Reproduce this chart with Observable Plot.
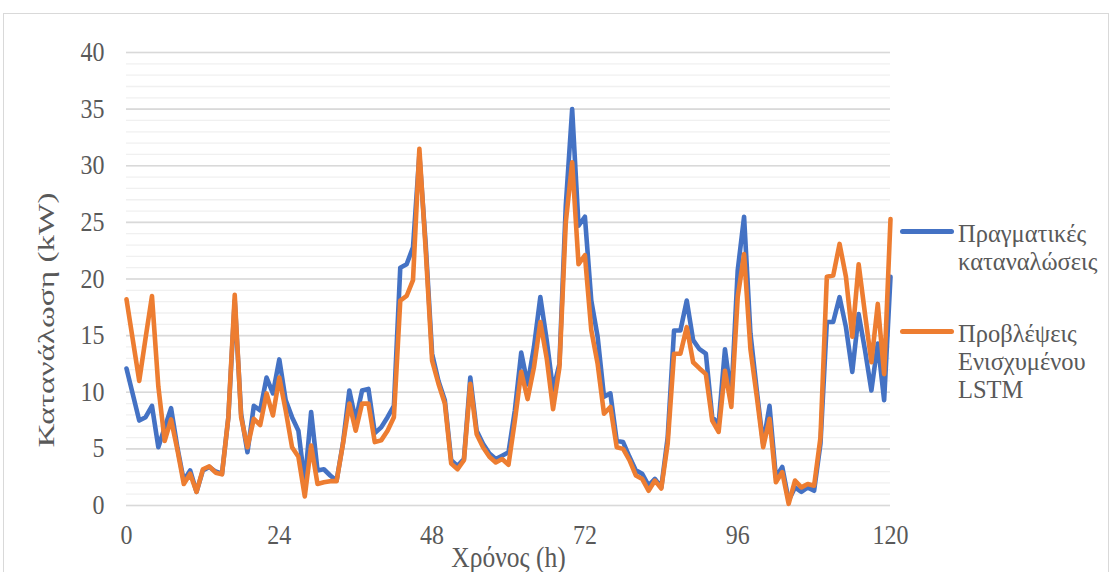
<!DOCTYPE html>
<html>
<head>
<meta charset="utf-8">
<script src="https://cdn.jsdelivr.net/npm/d3@7"></script>
<script src="https://cdn.jsdelivr.net/npm/@observablehq/plot@0.6"></script>
<style>
  html, body { margin: 0; padding: 0; background: #fff; overflow: hidden; }
  #chart { position: relative; width: 1113px; height: 572px; overflow: hidden; font-family: "Liberation Serif", "Times New Roman", serif; }
  #frame { position: absolute; left: 3px; top: 13px; width: 1106px; height: 640px; border: 1px solid #d9d9d9; box-sizing: border-box; }
  #legend { position: absolute; left: 900px; top: 220px; color: #595959; font-size: 24.5px; line-height: 28px; }
  .entry { position: relative; padding-left: 58px; margin-bottom: 44px; }
  .swatch { position: absolute; left: 0; top: 9px; width: 54px; height: 5px; border-radius: 2.5px; }
  svg { position: absolute; left: 0; top: 0; }
</style>
</head>
<body>
<div id="chart"><div id="frame"></div></div>
<script>
// Hourly electricity consumption (kW): measured vs. enhanced-LSTM forecast
const hours = d3.range(0, 121);

const actual = [
  12.1, 9.8, 7.5, 7.8, 8.8, 5.15, 6.9, 8.6, 5.1, 2.2,
  3.1, 1.2, 3.1, 3.4, 3.0, 2.8, 7.8, 18.1, 8.1, 4.7,
  8.8, 8.4, 11.3, 9.9, 12.9, 9.3, 7.8, 6.6, 2.0, 8.25,
  3.1, 3.2, 2.65, 2.2, 5.5, 10.15, 7.5, 10.15, 10.3, 6.4,
  6.9, 7.8, 8.8, 21.0, 21.3, 22.8, 31.0, 23.0, 13.4, 11.0,
  9.3, 4.0, 3.5, 4.1, 11.3, 6.6, 5.45, 4.6, 4.1, 4.4,
  4.7, 8.4, 13.5, 10.7, 14.0, 18.4, 14.6, 10.2, 12.5, 26.5,
  35.0, 24.7, 25.5, 18.1, 14.9, 9.6, 9.9, 5.7, 5.6, 4.3,
  3.1, 2.8, 1.75, 2.35, 1.6, 6.0, 15.45, 15.45, 18.1, 14.6,
  13.8, 13.4, 7.8, 7.2, 13.8, 9.6, 20.75, 25.5, 15.2, 10.15,
  5.45, 8.8, 2.5, 3.4, 0.45, 1.6, 1.2, 1.6, 1.3, 5.45,
  16.2, 16.2, 18.4, 15.75, 11.8, 16.9, 13.7, 10.15, 14.3, 9.3,
  20.2
];

const predicted = [
  18.2, 14.6, 11.0, 14.8, 18.5, 10.5, 5.7, 7.6, 4.9, 1.9,
  2.8, 1.2, 3.2, 3.45, 2.9, 2.75, 7.8, 18.6, 7.8, 5.15,
  7.65, 7.1, 9.9, 7.95, 11.3, 8.4, 5.15, 4.3, 0.8, 5.3,
  1.9, 2.05, 2.15, 2.15, 5.45, 9.0, 6.6, 9.0, 9.0, 5.6,
  5.75, 6.6, 7.8, 18.1, 18.5, 19.9, 31.5, 22.5, 12.8, 10.75,
  9.0, 3.7, 3.2, 4.0, 10.75, 6.3, 5.15, 4.3, 3.8, 4.1,
  3.6, 7.5, 11.8, 9.4, 12.2, 16.2, 13.0, 8.5, 12.2, 25.0,
  30.3, 21.3, 22.1, 15.5, 12.5, 8.1, 8.7, 5.15, 5.0, 4.0,
  2.65, 2.35, 1.3, 2.2, 1.5, 5.45, 13.4, 13.4, 15.75, 12.65,
  12.1, 11.6, 7.5, 6.5, 11.9, 8.7, 18.4, 22.2, 13.8, 9.6,
  5.15, 7.65, 2.05, 2.95, 0.15, 2.2, 1.6, 1.9, 1.75, 6.0,
  20.2, 20.3, 23.1, 20.2, 14.9, 21.3, 16.9, 12.65, 17.8, 11.6,
  25.3
];

const seriesNames = ["Πραγματικές καταναλώσεις", "Προβλέψεις Ενισχυμένου LSTM"];
const seriesLegend = [["Πραγματικές", "καταναλώσεις"], ["Προβλέψεις", "Ενισχυμένου", "LSTM"]];
const seriesColors = ["#4472C4", "#ED7D31"];

const xTicks = [0, 24, 48, 72, 96, 120];
const yTicks = [0, 5, 10, 15, 20, 25, 30, 35, 40];
const yMinor = d3.range(0, 41, 1);

const xTitle = "Χρόνος (h)";
const yTitle = "Κατανάλωση (kW)";

const rows = [
  ...hours.map((h, i) => ({hour: h, value: actual[i], series: seriesNames[0]})),
  ...hours.map((h, i) => ({hour: h, value: predicted[i], series: seriesNames[1]}))
];

const textColor = "#595959";

const chart = Plot.plot({
  width: 1113,
  height: 572,
  marginLeft: 126,
  marginRight: 223,
  marginTop: 52,
  marginBottom: 67,
  style: {fontFamily: "Liberation Serif, Times New Roman, serif", background: "transparent", overflow: "visible"},
  x: {domain: [0, 120]},
  y: {domain: [0, 40]},
  color: {domain: seriesNames, range: seriesColors},
  marks: [
    Plot.ruleY(yMinor, {stroke: "#f0f0f0", strokeWidth: 1.3}),
    Plot.ruleY(yTicks, {stroke: "#d9d9d9", strokeWidth: 1.6}),
    Plot.axisY(yTicks, {tickSize: 0, tickPadding: 22, fontSize: 24, fill: textColor, label: null}),
    Plot.axisX(xTicks, {tickSize: 0, tickPadding: 19, fontSize: 24, fill: textColor, label: null}),
    Plot.text([yTitle], {frameAnchor: "left", textAnchor: "middle", rotate: -90, dx: -80, dy: 41, fontSize: 24, fill: textColor}),
    Plot.text([xTitle], {frameAnchor: "bottom", textAnchor: "middle", dy: 61, fontSize: 25.5, fill: textColor}),
    Plot.line(rows, {x: "hour", y: "value", z: "series", stroke: "series", strokeWidth: 4.6, strokeLinejoin: "round", strokeLinecap: "round"})
  ]
});

// Text in this chart is set slightly taller than the font's natural proportions
chart.querySelectorAll("text").forEach(t => {
  const label = t.textContent;
  if (label === yTitle) {
    t.setAttribute("textLength", 255);
    t.setAttribute("lengthAdjust", "spacingAndGlyphs");
  } else {
    const tr = t.getAttribute("transform") || "";
    t.setAttribute("transform", (tr + " scale(1,1.12)").trim());
  }
});

const root = document.getElementById("chart");
root.appendChild(chart);

// Legend to the right of the plot area
const legend = document.createElement("div");
legend.id = "legend";
seriesLegend.forEach((lines, i) => {
  const entry = document.createElement("div");
  entry.className = "entry";
  const sw = document.createElement("div");
  sw.className = "swatch";
  sw.style.background = seriesColors[i];
  entry.appendChild(sw);
  lines.forEach(t => {
    const d = document.createElement("div");
    d.textContent = t;
    entry.appendChild(d);
  });
  legend.appendChild(entry);
});
root.appendChild(legend);
</script>
</body>
</html>
